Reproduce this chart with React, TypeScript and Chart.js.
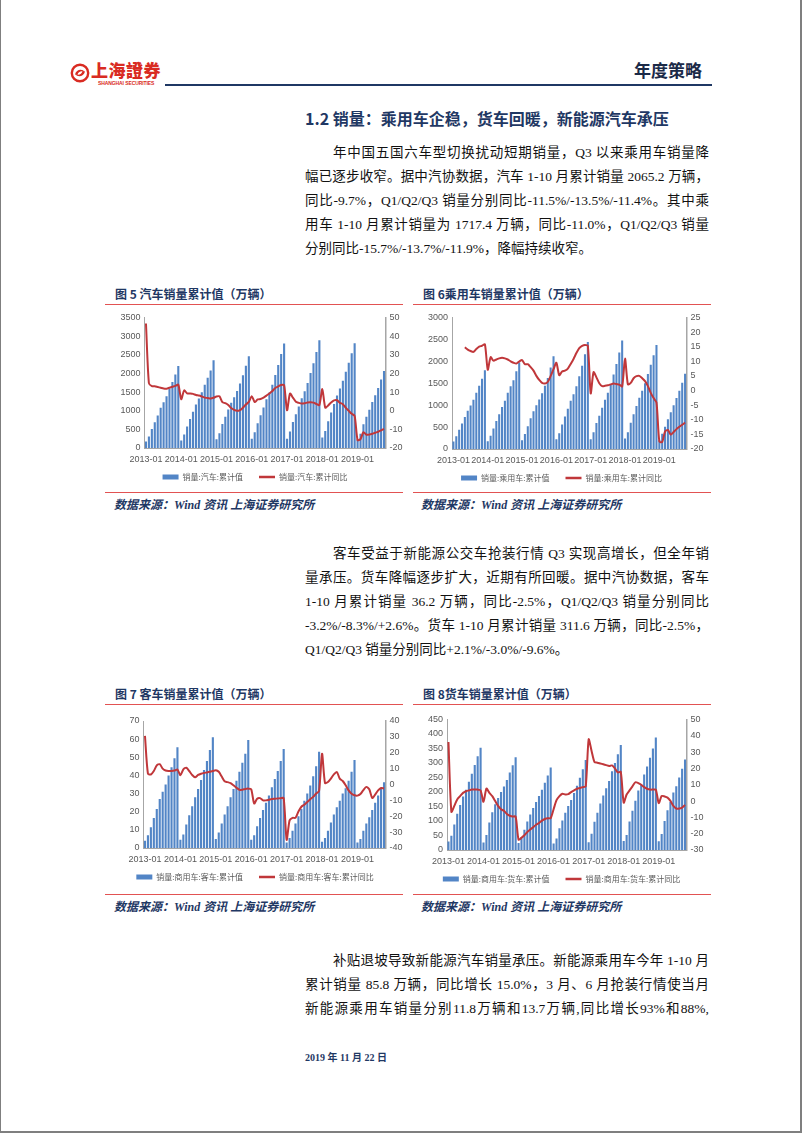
import React, { useEffect, useRef } from 'react';
import { Chart, registerables } from 'chart.js';

Chart.register(...registerables);

// ---------- categories ----------
const YEARS = ['2013', '2014', '2015', '2016', '2017', '2018', '2019'];
const LAST_MONTH_2019 = 10;
const CATEGORIES: string[] = [];
for (const y of YEARS) {
  const n = y === '2019' ? LAST_MONTH_2019 : 12;
  for (let m = 1; m <= n; m++) CATEGORIES.push(`${y}-${m < 10 ? '0' + m : m}`);
}

// ---------- Fig 5: 汽车 ----------
const AUTO_CUM = [
  173, 307, 510, 693, 868, 1078, 1226, 1387, 1585, 1768, 1972, 2198,
  200, 360, 579, 780, 972, 1168, 1328, 1494, 1692, 1883, 2079, 2349,
  232, 398, 640, 839, 1030, 1210, 1361, 1527, 1729, 1951, 2201, 2460,
  250, 421, 665, 877, 1087, 1305, 1490, 1697, 1959, 2225, 2519, 2803,
  249, 443, 697, 905, 1114, 1332, 1520, 1739, 2010, 2273, 2570, 2888,
  281, 453, 718, 950, 1179, 1406, 1595, 1805, 2044, 2282, 2537, 2808,
  237, 385, 637, 835, 1026, 1232, 1413, 1609, 1836, 2065,
];
const AUTO_YOY = [
  46.7, 14.7, 13.2, 13.1, 12.7, 12.3, 11.9, 11.8, 12.3, 12.8, 13.3, 13.9,
  6.1, 10.9, 9.3, 9.2, 9.0, 8.4, 8.1, 7.6, 7.0, 6.8, 6.5, 6.9,
  7.6, 7.7, 4.6, 4.0, 3.0, 1.4, 0.4, -0.1, 0.3, 1.6, 3.3, 4.7,
  7.8, 4.6, 6.0, 6.3, 7.0, 8.1, 9.2, 10.5, 12.2, 13.0, 13.8, 13.7,
  0.2, 9.2, 7.0, 4.8, 4.2, 3.8, 4.0, 4.4, 4.5, 4.3, 3.6, 3.0,
  11.6, 1.6, 2.8, 4.4, 5.5, 5.6, 4.2, 3.5, 1.5, -0.1, -1.7, -2.8,
  -15.8, -15.2, -11.5, -12.9, -12.8, -12.4, -11.8, -11.3, -10.5, -9.7,
];

// ---------- Fig 6: 乘用车 ----------
const PV_CUM = [
  170, 290, 440, 580, 730, 870, 990, 1120, 1280, 1440, 1600, 1793,
  175, 300, 470, 640, 795, 960, 1100, 1280, 1430, 1570, 1770, 1970,
  200, 340, 520, 700, 860, 1000, 1130, 1270, 1440, 1620, 1860, 2115,
  220, 360, 560, 740, 920, 1100, 1250, 1430, 1660, 1900, 2160, 2438,
  220, 380, 590, 760, 940, 1120, 1280, 1460, 1700, 1940, 2200, 2472,
  240, 380, 600, 790, 980, 1170, 1330, 1500, 1710, 1920, 2140, 2371,
  200, 350, 510, 680, 840, 1000, 1160, 1330, 1510, 1717,
];
const PV_YOY: (number | null)[] = [
  null, null, null, null, 14.8, 14.0, 13.5, 13.2, 14.2, 15.0, 15.3, 15.8,
  7.1, 11.4, 10.2, 10.6, 11.0, 11.2, 11.0, 10.6, 10.0, 9.5, 9.2, 9.9,
  10.4, 9.0, 9.0, 8.0, 6.8, 5.0, 3.6, 2.6, 2.4, 3.0, 5.0, 7.3,
  9.5, 5.2, 6.5, 6.8, 7.5, 9.1, 10.8, 12.8, 14.5, 15.3, 15.6, 15.3,
  -1.0, 6.3, 4.5, 2.5, 1.5, 1.6, 1.8, 2.1, 2.4, 2.2, 2.0, 1.4,
  10.9, 2.1, 2.6, 4.2, 4.9, 5.0, 4.2, 3.2, 1.5, -0.8, -2.6, -4.1,
  -17.4, -17.6, -14.0, -13.5, -15.1, -14.2, -13.2, -12.4, -11.7, -11.0,
];

// ---------- Fig 7: 客车 ----------
const BUS_CUM = [
  4, 7, 11.5, 16.5, 21.5, 27, 31, 35, 40, 44.5, 49.5, 55.5,
  4.5, 7.5, 13, 18, 23, 28, 32.5, 37.5, 43, 48, 54, 61,
  5, 8.5, 13.5, 18.5, 23, 28, 32.5, 37, 42, 47, 52, 59.5,
  4.5, 7, 12, 16.5, 21, 25, 29, 33.5, 38, 42.5, 48, 54.5,
  3, 5.5, 9.5, 13.5, 17.5, 21.5, 26, 30, 34.5, 39.5, 45, 53,
  3.5, 5.5, 9.5, 14, 18.5, 22.5, 26, 30, 33, 37, 42, 48.5,
  3, 5, 9.5, 13.5, 17, 21, 25, 29, 32.5, 36.2,
];
const BUS_YOY = [
  30.6, 6.8, 6.3, 8.5, 12.0, 12.8, 10.0, 8.8, 8.5, 8.5, 8.8, 9.5,
  5.8, 9.6, 10.5, 8.5, 6.0, 4.5, 6.0, 6.8, 7.3, 7.6, 8.0, 8.5,
  9.0, 8.0, 5.0, 2.0, 1.5, 0.8, -0.5, -2.0, -3.3, -3.3, -2.8, -2.6,
  -3.0, -12.0, -9.0, -8.6, -10.0, -10.0, -9.6, -9.2, -9.0, -8.8, -8.6, -8.6,
  -34.8, -22.6, -21.0, -21.0, -17.0, -14.0, -12.7, -11.0, -9.3, -7.8, -5.7, -4.0,
  19.4, 0.9, 1.6, 3.7, 6.4, 7.9, 3.7, 2.2, -0.5, -3.7, -5.8, -6.8,
  -7.0, -6.0, -3.5, -1.5, -3.0, -8.5, -6.4, -3.7, -2.2, -2.5,
];

// ---------- Fig 8: 货车 ----------
const TRUCK_CUM = [
  29, 49, 88, 125, 155, 184, 208, 235, 263, 293, 323, 352,
  26, 52, 95, 130, 158, 179, 200, 219, 241, 267, 292, 320,
  24, 45, 70, 98, 122, 145, 165, 186, 208, 232, 257, 284,
  22, 40, 75, 102, 128, 152, 172, 196, 221, 249, 278, 310,
  27, 56, 97, 128, 160, 188, 213, 238, 271, 300, 330, 362,
  31, 52, 98, 135, 170, 205, 225, 260, 288, 318, 350, 388,
  30, 55, 100, 137, 165, 198, 220, 250, 280, 311.6,
];
const TRUCK_YOY = [
  36.2, -6.6, -3.0, 1.0, 3.0, 5.0, 6.0, 6.5, 7.0, 7.0, 7.0, 6.5,
  -0.5, 7.6, 5.0, 3.0, 0.0, -3.0, -5.0, -6.0, -8.0, -9.0, -9.5, -9.5,
  -23.7, -22.5, -21.0, -19.0, -17.5, -16.0, -14.5, -13.5, -12.0, -11.0, -10.5, -10.5,
  -5.0, 0.5, 3.0, 4.5, 4.0, 4.2, 5.5, 6.5, 7.5, 8.0, 8.5, 9.0,
  37.8, 30.7, 23.9, 23.5, 23.0, 22.5, 22.0, 21.5, 21.8, 20.0, 17.5, 17.8,
  -1.0, 4.0, 6.5, 9.0, 11.5, 11.0, 10.0, 8.5, 7.5, 7.0, 7.0, 7.0,
  -1.3, 3.1, 2.8, 2.1, 0.1, -3.0, -4.6, -4.6, -4.0, -2.5,
];

// ---------- texts ----------
const HEADING = '1.2 销量：乘用车企稳，货车回暖，新能源汽车承压';
const PARA1 = [
  '年中国五国六车型切换扰动短期销量，Q3 以来乘用车销量降',
  '幅已逐步收窄。据中汽协数据，汽车 1-10 月累计销量 2065.2 万辆，',
  '同比-9.7%，Q1/Q2/Q3 销量分别同比-11.5%/-13.5%/-11.4%。其中乘',
  '用车 1-10 月累计销量为 1717.4 万辆，同比-11.0%，Q1/Q2/Q3 销量',
  '分别同比-15.7%/-13.7%/-11.9%，降幅持续收窄。',
];
const PARA2 = [
  '客车受益于新能源公交车抢装行情 Q3 实现高增长，但全年销',
  '量承压。货车降幅逐步扩大，近期有所回暖。据中汽协数据，客车',
  '1-10 月累计销量 36.2 万辆，同比-2.5%，Q1/Q2/Q3 销量分别同比',
  '-3.2%/-8.3%/+2.6%。货车 1-10 月累计销量 311.6 万辆，同比-2.5%，',
  'Q1/Q2/Q3 销量分别同比+2.1%/-3.0%/-9.6%。',
];
const PARA3 = [
  '补贴退坡导致新能源汽车销量承压。新能源乘用车今年 1-10 月',
  '累计销量 85.8 万辆，同比增长 15.0%，3 月、6 月抢装行情使当月',
  '新能源乘用车销量分别11.8万辆和13.7万辆,同比增长93%和88%,',
];
const SOURCE = '数据来源：Wind 资讯 上海证券研究所';

// ---------- styles ----------
const BLUE = '#5285c6';
const RED = '#c0373a';
const NAVY = '#1f3864';
const CAPTION_RED = '#e25252';
const TICK_COLOR = '#595959';
const AXIS_COLOR = '#a6a6a6';
const TICK_FONT = { family: '"Liberation Sans", Arial, sans-serif', size: 9 };
const LEGEND_FONT = { family: '"Noto Sans CJK SC", sans-serif', size: 8 };
const BODY_FONT = '"Liberation Serif", "Noto Sans CJK SC", serif';
const CJK_FONT = '"Noto Sans CJK SC", sans-serif';

const XH = 17;
const LP = 8;

type Rect = { left: number; top: number; width: number };
type Plot = { left: number; right: number; top: number; bottom: number };
type Spec = {
  canvas: Rect;
  plot: Plot;
  bars: number[];
  line: (number | null)[];
  barLabel: string;
  lineLabel: string;
  yL: [number, number, number];
  yR: [number, number, number];
};

const SPECS: Spec[] = [
  {
    canvas: { left: 105, top: 308, width: 300 },
    plot: { left: 144.5, right: 385.5, top: 317.3, bottom: 448.3 },
    bars: AUTO_CUM, line: AUTO_YOY,
    barLabel: '销量:汽车:累计值', lineLabel: '销量:汽车:累计同比',
    yL: [0, 3500, 500], yR: [-20, 50, 10],
  },
  {
    canvas: { left: 413, top: 308, width: 297 },
    plot: { left: 452, right: 686.5, top: 316.7, bottom: 449.3 },
    bars: PV_CUM, line: PV_YOY,
    barLabel: '销量:乘用车:累计值', lineLabel: '销量:乘用车:累计同比',
    yL: [0, 3000, 500], yR: [-20, 25, 5],
  },
  {
    canvas: { left: 105, top: 711, width: 300 },
    plot: { left: 143.5, right: 385.5, top: 721, bottom: 848 },
    bars: BUS_CUM, line: BUS_YOY,
    barLabel: '销量:商用车:客车:累计值', lineLabel: '销量:商用车:客车:累计同比',
    yL: [0, 70, 10], yR: [-40, 40, 10],
  },
  {
    canvas: { left: 413, top: 710, width: 297 },
    plot: { left: 447, right: 686.5, top: 718.7, bottom: 849.7 },
    bars: TRUCK_CUM, line: TRUCK_YOY,
    barLabel: '销量:商用车:货车:累计值', lineLabel: '销量:商用车:货车:累计同比',
    yL: [0, 450, 50], yR: [-30, 50, 10],
  },
];

function canvasHeight(s: Spec) {
  return Math.round(s.plot.bottom - s.canvas.top + XH + 8 + LP + 10);
}

function ComboChart({ spec }: { spec: Spec }) {
  const ref = useRef<HTMLCanvasElement>(null);
  const h = canvasHeight(spec);
  useEffect(() => {
    const c = ref.current;
    if (!c) return;
    const { canvas, plot } = spec;
    const padTop = plot.top - canvas.top;
    const leftW = plot.left - canvas.left;
    const rightW = canvas.left + canvas.width - plot.right;
    const chart = new Chart(c, {
      type: 'bar',
      data: {
        labels: CATEGORIES,
        datasets: [
          {
            type: 'bar',
            label: spec.barLabel,
            data: spec.bars,
            yAxisID: 'y',
            backgroundColor: BLUE,
            borderWidth: 0,
            barPercentage: 0.72,
            categoryPercentage: 1,
            order: 2,
          },
          {
            type: 'line',
            label: spec.lineLabel,
            data: spec.line,
            yAxisID: 'y1',
            borderColor: RED,
            backgroundColor: RED,
            borderWidth: 2,
            pointRadius: 0,
            tension: 0.25,
            spanGaps: false,
            order: 1,
          },
        ] as any,
      },
      options: {
        animation: false,
        responsive: false,
        maintainAspectRatio: false,
        layout: { padding: { top: padTop, left: 0, right: 0, bottom: 0 } },
        plugins: {
          tooltip: { enabled: false },
          legend: {
            position: 'bottom',
            labels: {
              usePointStyle: true,
              pointStyleWidth: 16,
              boxHeight: 5,
              padding: LP,
              font: LEGEND_FONT,
              color: TICK_COLOR,
              generateLabels: () => [
                { text: spec.barLabel + '\u2002\u2002', fillStyle: BLUE, strokeStyle: BLUE, lineWidth: 0, pointStyle: 'rect', hidden: false, datasetIndex: 0, fontColor: TICK_COLOR } as any,
                { text: spec.lineLabel, fillStyle: RED, strokeStyle: RED, lineWidth: 2.5, pointStyle: 'line', hidden: false, datasetIndex: 1, fontColor: TICK_COLOR } as any,
              ],
            },
          },
        },
        scales: {
          x: {
            type: 'category',
            offset: true,
            grid: { display: false, drawTicks: false },
            border: { display: true, color: AXIS_COLOR, width: 1 },
            ticks: {
              autoSkip: false,
              maxRotation: 0,
              minRotation: 0,
              padding: 6,
              font: TICK_FONT,
              color: TICK_COLOR,
              callback: (_v: any, i: number) => (i % 12 === 0 ? CATEGORIES[i] : null),
            },
            afterFit: (s: any) => { s.height = XH; },
          },
          y: {
            position: 'left',
            min: spec.yL[0],
            max: spec.yL[1],
            grid: { display: false, drawTicks: false },
            border: { display: true, color: AXIS_COLOR, width: 1 },
            ticks: { stepSize: spec.yL[2], padding: 4, font: TICK_FONT, color: TICK_COLOR, callback: (v: any) => String(v) },
            afterFit: (s: any) => { s.width = leftW; },
          },
          y1: {
            position: 'right',
            min: spec.yR[0],
            max: spec.yR[1],
            grid: { display: false, drawTicks: false },
            border: { display: true, color: AXIS_COLOR, width: 1.5 },
            ticks: { stepSize: spec.yR[2], padding: 4, font: TICK_FONT, color: TICK_COLOR, callback: (v: any) => String(v) },
            afterFit: (s: any) => { s.width = rightW; },
          },
        },
      } as any,
    });
    return () => chart.destroy();
  }, [spec]);
  return (
    <canvas
      ref={ref}
      width={spec.canvas.width}
      height={h}
      style={{ position: 'absolute', left: spec.canvas.left, top: spec.canvas.top, width: spec.canvas.width, height: h }}
    />
  );
}

function Line({ x, y, text, size, justify, color, font, bold, italic, width, align }: any) {
  const lh = Math.round(size * 1.4);
  return (
    <div
      style={{
        position: 'absolute',
        left: x,
        top: y - lh / 2,
        width: width,
        height: lh,
        lineHeight: lh + 'px',
        fontSize: size,
        fontFamily: font || BODY_FONT,
        fontWeight: bold ? 700 : 400,
        fontStyle: italic ? 'italic' : 'normal',
        color: color || '#111',
        whiteSpace: 'nowrap',
        textAlign: justify ? 'justify' : align || 'left',
        textAlignLast: justify ? 'justify' : align || 'left',
      } as any}
    >
      {text}
    </div>
  );
}

function Paragraph({ lines, y0, step, justifyLast }: { lines: string[]; y0: number; step: number; justifyLast?: boolean }) {
  return (
    <>
      {lines.map((t, i) => {
        const first = i === 0;
        const last = i === lines.length - 1;
        const x = first ? 333 : 305;
        return (
          <Line key={i} x={x} y={y0 + i * step} text={t} size={13.5} width={709 - x} justify={!last || justifyLast} />
        );
      })}
    </>
  );
}

function Rule({ x1, x2, y, color, h }: any) {
  return <div style={{ position: 'absolute', left: x1, top: y, width: x2 - x1, height: h || 1, background: color }} />;
}

function Logo() {
  return (
    <div style={{ position: 'absolute', left: 70, top: 61, width: 95, height: 26 }}>
      <svg width="20" height="20" viewBox="0 0 20 20" style={{ position: 'absolute', left: 0, top: 2 }}>
        <circle cx="10" cy="10" r="8.2" fill="none" stroke="#d92b22" strokeWidth="2.4" />
        <path d="M5 11.5 C6 6, 13 5.5, 14.5 9 C12 7.5, 8 8.5, 7.5 12 Z" fill="#d92b22" />
        <path d="M15 8.5 C14 14, 7 14.5, 5.5 11 C8 12.5, 12 11.5, 12.5 8 Z" fill="#d92b22" />
      </svg>
      <div style={{ position: 'absolute', left: 21, top: -1, fontFamily: '"Noto Sans CJK TC", sans-serif', fontWeight: 900, fontSize: 17, lineHeight: '20px', color: '#d92b22', letterSpacing: 0.5, whiteSpace: 'nowrap' }}>
        上海證券
      </div>
      <div style={{ position: 'absolute', left: 28, top: 19, fontFamily: '"Liberation Sans", sans-serif', fontWeight: 700, fontSize: 5, lineHeight: '6px', color: '#d92b22', whiteSpace: 'nowrap', letterSpacing: -0.1 }}>
        SHANGHAI SECURITIES
      </div>
    </div>
  );
}

export default function App() {
  return (
    <div style={{ position: 'absolute', left: 0, top: 0, width: 802, height: 1133, background: '#fff', overflow: 'hidden' }}>
      {/* page border */}
      <div style={{ position: 'absolute', left: 0, top: -3, width: 802, height: 1136, boxSizing: 'border-box', borderLeft: '1.5px solid #7f7f7f', borderRight: '2px solid #7f7f7f', borderBottom: '2px solid #7f7f7f' }} />

      {/* header */}
      <Logo />
      <Line x={560} y={70} width={142} align="right" text="年度策略" size={17} bold color="#1b2a48" font={CJK_FONT} />
      <Rule x1={165} x2={712} y={84} h={2} color={NAVY} />

      {/* heading */}
      <Line x={305} y={118} text={HEADING} size={16} bold color={NAVY} font={CJK_FONT} />

      <Paragraph lines={PARA1} y0={152} step={24} />

      {/* figure 5/6 */}
      <Line x={115} y={293} text="图 5 汽车销量累计值（万辆）" size={12} bold color={NAVY} font={CJK_FONT} />
      <Line x={423} y={293} text="图 6乘用车销量累计值（万辆）" size={12} bold color={NAVY} font={CJK_FONT} />
      <Rule x1={105} x2={403} y={303.5} color={CAPTION_RED} />
      <Rule x1={413} x2={711} y={303.5} color={CAPTION_RED} />
      <ComboChart spec={SPECS[0]} />
      <ComboChart spec={SPECS[1]} />
      <Rule x1={105} x2={403} y={491.5} color={CAPTION_RED} />
      <Rule x1={413} x2={711} y={491.5} color={CAPTION_RED} />
      <Line x={114} y={505} text={SOURCE} size={12} bold italic color={NAVY} />
      <Line x={421} y={505} text={SOURCE} size={12} bold italic color={NAVY} />

      <Paragraph lines={PARA2} y0={553} step={24} />

      {/* figure 7/8 */}
      <Line x={115} y={693} text="图 7 客车销量累计值（万辆）" size={12} bold color={NAVY} font={CJK_FONT} />
      <Line x={423} y={693} text="图 8货车销量累计值（万辆）" size={12} bold color={NAVY} font={CJK_FONT} />
      <Rule x1={105} x2={403} y={703.5} color={CAPTION_RED} />
      <Rule x1={413} x2={711} y={703.5} color={CAPTION_RED} />
      <ComboChart spec={SPECS[2]} />
      <ComboChart spec={SPECS[3]} />
      <Rule x1={105} x2={403} y={893.5} color={CAPTION_RED} />
      <Rule x1={413} x2={711} y={893.5} color={CAPTION_RED} />
      <Line x={114} y={907} text={SOURCE} size={12} bold italic color={NAVY} />
      <Line x={421} y={907} text={SOURCE} size={12} bold italic color={NAVY} />

      <Paragraph lines={PARA3} y0={960} step={24} justifyLast />

      {/* footer */}
      <Line x={305} y={1058} text="2019 年 11 月 22 日" size={10} bold color={NAVY} />
    </div>
  );
}
